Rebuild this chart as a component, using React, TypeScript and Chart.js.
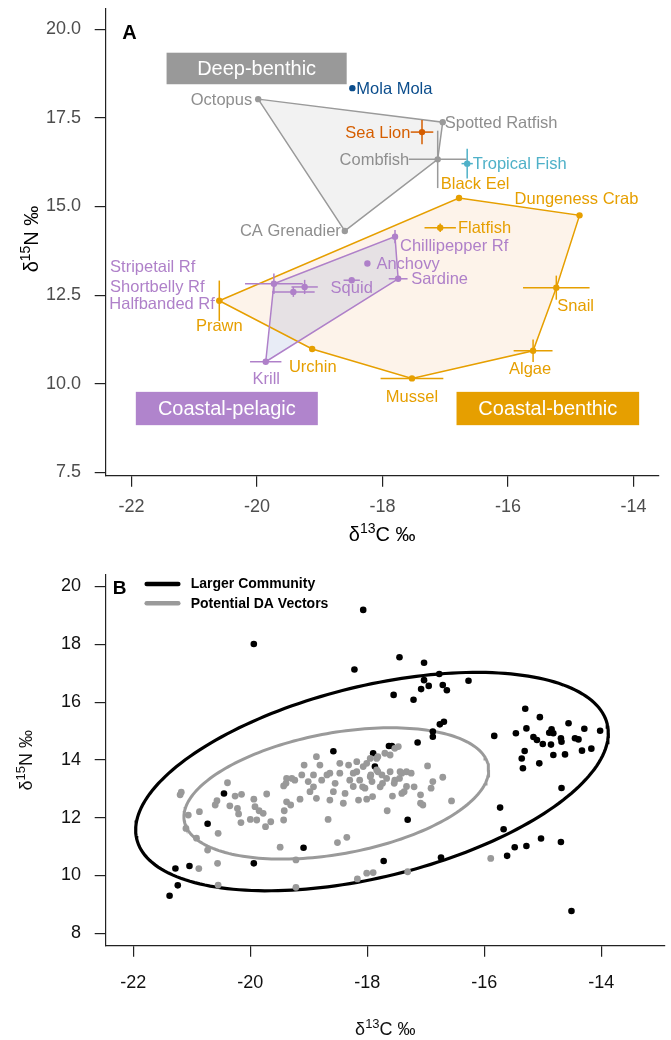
import React, { useEffect, useRef } from "react";
import { Chart, registerables } from "chart.js";

Chart.register(...registerables);

const FONT = "'Liberation Sans', Arial, Helvetica, sans-serif";

// ---------------- Panel A : species mean isotope values ----------------
const A_SPECIES = [
  "Octopus", "Mola Mola", "Spotted Ratfish", "Sea Lion", "Combfish", "Tropical Fish",
  "Black Eel", "Dungeness Crab", "Flatfish", "CA Grenadier", "Chillipepper Rf", "Anchovy",
  "Sardine", "Squid", "Stripetail Rf", "Shortbelly Rf", "Halfbanded Rf", "Prawn",
  "Snail", "Urchin", "Krill", "Algae", "Mussel",
];
const A_D13C = [-19.98, -18.48, -17.04, -17.37, -17.12, -16.65, -16.78, -14.86, -17.08, -18.6, -17.8, -18.24, -17.75, -18.49, -19.73, -19.24, -19.42, -20.6, -15.23, -19.12, -19.86, -15.6, -17.53];
const A_D15N = [18.03, 18.34, 17.38, 17.1, 16.33, 16.21, 15.24, 14.75, 14.4, 14.31, 14.15, 13.39, 12.96, 12.92, 12.82, 12.73, 12.59, 12.34, 12.71, 10.98, 10.62, 10.93, 10.15];
const A_SD13C = [0, 0, 0, 0.18, 0.46, 0.09, 0, 0, 0.25, 0, 0, 0, 0.15, 0.13, 0.46, 0.21, 0.34, 0.05, 0.53, 0, 0.25, 0.31, 0.5];
const A_SD15N = [0, 0, 0, 0.34, 0.81, 0.42, 0, 0, 0.12, 0, 0.19, 0, 0, 0, 0.29, 0.2, 0.14, 0.57, 0.34, 0, 0, 0.32, 0];
const A_GROUP = [
  "deep", "mola", "deep", "sealion", "deep", "tropical",
  "benthic", "benthic", "benthic", "deep", "pelagic", "pelagic",
  "pelagic", "pelagic", "pelagic", "pelagic", "pelagic", "benthic",
  "benthic", "benthic", "pelagic", "benthic", "benthic",
];
const HULL_DEEP = ["Octopus", "Spotted Ratfish", "Combfish", "CA Grenadier"];
const HULL_BENTHIC = ["Prawn", "Black Eel", "Dungeness Crab", "Snail", "Algae", "Mussel", "Urchin"];
const HULL_PELAGIC = ["Stripetail Rf", "Chillipepper Rf", "Sardine", "Krill"];
const A_X_TICKS = [-22, -20, -18, -16, -14];
const A_Y_TICKS = [7.5, 10, 12.5, 15, 17.5, 20];
const GROUP_NAMES = ["Deep-benthic", "Coastal-pelagic", "Coastal-benthic"];

// ---------------- Panel B : individual samples ----------------
const COMMUNITY_D13C = [-18.07, -19.94, -17.45, -18.22, -17.55, -18.58, -17.63, -17.58, -17.9, -17.87, -17.03, -16.77, -17.03, -16.95, -17.08, -16.71, -16.64, -16.27, -17.21, -16.69, -16.76, -16.88, -16.88, -17.14, -15.83, -15.3, -15.05, -14.56, -14.29, -14.02, -15.46, -15.28, -14.85, -14.89, -14.82, -15.16, -15.1, -15.0, -14.86, -14.69, -14.68, -14.45, -14.39, -14.17, -14.33, -14.62, -14.82, -15.31, -15.36, -15.06, -15.34, -14.68, -15.73, -15.67, -15.03, -14.69, -15.28, -15.48, -15.61, -14.51, -17.31, -16.74, -17.72, -20.45, -20.73, -19.09, -19.94, -21.28, -21.04, -21.24, -21.38];
const COMMUNITY_D15N = [19.19, 18.01, 17.55, 17.13, 16.25, 14.3, 14.48, 14.48, 14.23, 13.77, 17.36, 16.97, 16.76, 16.56, 16.45, 16.59, 16.41, 16.74, 16.08, 15.32, 15.23, 14.98, 14.8, 14.6, 14.83, 15.77, 15.48, 15.27, 15.08, 15.01, 14.92, 15.09, 15.06, 14.94, 14.92, 14.79, 14.69, 14.55, 14.53, 14.75, 14.63, 14.75, 14.71, 14.39, 14.32, 14.19, 14.17, 14.31, 14.05, 13.88, 13.71, 13.03, 12.35, 11.6, 11.28, 11.16, 11.02, 10.98, 10.68, 8.77, 11.93, 10.62, 10.5, 12.84, 11.79, 10.96, 10.42, 10.24, 10.33, 9.66, 9.3];
const VECTOR_D13C = [-21.18, -21.2, -21.06, -21.1, -20.87, -20.92, -20.73, -20.88, -20.56, -20.55, -20.55, -20.57, -20.6, -20.39, -20.35, -20.26, -20.15, -20.22, -20.2, -20.16, -20.0, -19.94, -19.89, -19.92, -19.85, -19.78, -19.72, -19.74, -19.65, -19.49, -19.43, -19.42, -19.38, -19.31, -19.43, -19.39, -19.29, -19.24, -19.15, -19.22, -19.22, -19.12, -19.08, -19.01, -18.98, -18.92, -18.87, -18.81, -18.78, -18.67, -18.69, -18.64, -18.58, -18.55, -18.51, -18.47, -18.41, -18.38, -18.35, -18.32, -18.3, -18.24, -18.18, -18.15, -18.13, -18.07, -18.04, -18.01, -17.95, -17.92, -17.84, -17.78, -17.75, -17.67, -17.66, -17.57, -17.53, -17.44, -17.41, -17.33, -18.01, -17.9, -18.17, -18.87, -18.47, -18.18, -18.01, -17.95, -17.84, -17.7, -17.61, -17.53, -17.47, -18.92, -18.64, -18.24, -17.61, -17.41, -17.33, -19.38, -17.94, -17.82, -17.74, -17.54, -17.45, -17.25, -17.2, -17.37, -17.09, -17.09, -17.05, -16.97, -16.91, -16.88, -16.71, -16.56, -17.91, -18.08, -15.89, -17.31, -17.82];
const VECTOR_D15N = [12.88, 12.79, 12.09, 11.63, 12.21, 11.29, 10.88, 10.24, 10.42, 11.46, 9.67, 12.59, 12.44, 13.21, 12.41, 12.75, 12.81, 12.32, 12.13, 11.83, 11.94, 12.64, 11.92, 12.38, 12.24, 12.15, 12.82, 11.69, 11.86, 10.98, 11.92, 12.24, 12.55, 12.44, 13.1, 13.19, 13.36, 13.3, 12.64, 10.54, 9.59, 13.48, 13.82, 13.25, 12.9, 13.07, 12.67, 13.82, 13.3, 11.94, 13.48, 12.61, 12.9, 13.19, 11.14, 13.54, 12.5, 12.84, 11.32, 13.82, 13.3, 13.08, 13.59, 12.61, 13.3, 13.77, 13.02, 12.64, 13.42, 13.25, 13.65, 13.07, 13.48, 13.36, 12.24, 12.75, 13.3, 13.59, 12.84, 13.08, 10.08, 10.1, 9.88, 14.11, 13.88, 13.94, 13.88, 14.05, 14.05, 14.23, 14.17, 14.4, 14.46, 13.48, 13.54, 13.54, 13.59, 13.54, 13.59, 13.36, 13.48, 13.59, 13.19, 13.19, 13.36, 13.54, 13.07, 12.9, 12.79, 12.5, 12.44, 13.79, 13.02, 13.25, 13.4, 12.58, 12.73, 13.07, 10.59, 10.13, 14.11];
// standard ellipses: centre [d13C, d15N] and spread [sxx, sxy, syy]
const ELLIPSE_COMMUNITY_CENTER = [-17.92, 13.25];
const ELLIPSE_COMMUNITY_SPREAD = [16.32, 6.765, 14.28];
const ELLIPSE_VECTOR_CENTER = [-18.53, 12.84];
const ELLIPSE_VECTOR_SPREAD = [6.786, 2.11, 5.161];
const B_X_TICKS = [-22, -20, -18, -16, -14];
const B_Y_TICKS = [8, 10, 12, 14, 16, 18, 20];
const B_LEGEND = ["Larger Community", "Potential DA Vectors"];

// ---------------- styles / layout ----------------
const GREY = "#9a9a9a";
const ORANGE = "#E69F00";
const PURPLE = "#AF80C9";
const COLORS: Record<string, string> = {
  deep: GREY, benthic: ORANGE, pelagic: PURPLE,
  mola: "#0B4D8C", sealion: "#D55E00", tropical: "#4FB1C8",
};
const LABEL_COLORS: Record<string, string> = { ...COLORS, deep: "#8e8e8e" };

const A_LABEL_LAYOUT: Record<string, [number, number, CanvasTextAlign]> = {
  "Octopus": [-6, 1, "right"],
  "Mola Mola": [4, 1, "left"],
  "Spotted Ratfish": [2, 1, "left"],
  "Sea Lion": [-11.6, 1, "right"],
  "Combfish": [-28.4, 1, "right"],
  "Tropical Fish": [5.6, 0.6, "left"],
  "Black Eel": [-18.3, -14, "left"],
  "Dungeness Crab": [-3, -16.4, "center"],
  "Flatfish": [17.7, 1, "left"],
  "CA Grenadier": [-4, 0.7, "right"],
  "Chillipepper Rf": [5, 10, "left"],
  "Anchovy": [9, 1, "left"],
  "Sardine": [13, 1, "left"],
  "Squid": [0, 8.6, "center"],
  "Stripetail Rf": [-163.8, -16.4, "left"],
  "Shortbelly Rf": [-194.6, 0.4, "left"],
  "Halfbanded Rf": [-184, 12.1, "left"],
  "Prawn": [0, 25.7, "center"],
  "Snail": [1, 18.4, "left"],
  "Urchin": [0.6, 18.4, "center"],
  "Krill": [0.5, 18, "center"],
  "Algae": [-3, 18.3, "center"],
  "Mussel": [0, 18.7, "center"],
};
// group boxes, corners in data units
const A_BOX_LAYOUT = [
  { color: "#999999", x0: -21.44, x1: -18.57, y0: 19.34, y1: 18.45 },
  { color: "#B084CC", x0: -21.93, x1: -19.03, y0: 9.77, y1: 8.83 },
  { color: "#E69F00", x0: -16.82, x1: -13.91, y0: 9.77, y1: 8.83 },
];

function idx(name: string) {
  return A_SPECIES.indexOf(name);
}

function hullPoints(names: string[]) {
  const pts = names.map((n) => ({ x: A_D13C[idx(n)], y: A_D15N[idx(n)] }));
  pts.push(pts[0]);
  return pts;
}

function ellipsePoints(center: number[], spread: number[]) {
  const [cx, cy] = center;
  const [sxx, sxy, syy] = spread;
  const sx = Math.sqrt(sxx);
  const l21 = sxy / sx;
  const l22 = Math.sqrt(syy - l21 * l21);
  const pts: { x: number; y: number }[] = [];
  const n = 200;
  for (let i = 0; i <= n; i++) {
    const t = (2 * Math.PI * i) / n;
    pts.push({ x: cx + sx * Math.cos(t), y: cy + l21 * Math.cos(t) + l22 * Math.sin(t) });
  }
  return pts;
}

function drawIso(ctx: CanvasRenderingContext2D, mass: string, el: string, x: number, y: number, rotate: boolean, size: number, color: string) {
  ctx.save();
  ctx.translate(x, y);
  if (rotate) ctx.rotate(-Math.PI / 2);
  const main = `${size}px ${FONT}`;
  const sup = `${Math.round(size * 0.72)}px ${FONT}`;
  ctx.font = main;
  const wD = ctx.measureText("δ").width;
  const wR = ctx.measureText(el + " ‰").width;
  ctx.font = sup;
  const wS = ctx.measureText(mass).width;
  let cx = -(wD + wS + wR) / 2;
  ctx.textAlign = "left";
  ctx.textBaseline = "alphabetic";
  ctx.fillStyle = color;
  ctx.font = main;
  ctx.fillText("δ", cx, 0);
  cx += wD;
  ctx.font = sup;
  ctx.fillText(mass, cx, -size * 0.4);
  cx += wS;
  ctx.font = main;
  ctx.fillText(el + " ‰", cx, 0);
  ctx.restore();
}

function axis(min: number, max: number, ticks: number[], fmt: (v: number) => string, isX: boolean, size: number, pad: number, labelColor: string) {
  return {
    type: "linear" as const,
    min,
    max,
    afterBuildTicks: (s: any) => {
      s.ticks = ticks.map((v) => ({ value: v }));
    },
    afterFit: (s: any) => {
      if (isX) {
        s.height = size;
        s.paddingLeft = 0;
        s.paddingRight = 0;
      } else {
        s.width = size;
        s.paddingTop = 0;
        s.paddingBottom = 0;
      }
    },
    grid: { drawOnChartArea: false, drawTicks: true, tickLength: 11, color: "#222", lineWidth: 1.2 },
    border: { display: true, color: "#222", width: 1.2 },
    ticks: {
      font: { size: 18, family: FONT },
      color: labelColor,
      padding: pad,
      callback: (v: any) => fmt(Number(v)),
    },
  };
}

function buildA(canvas: HTMLCanvasElement) {
  const plugin = {
    id: "panelA",
    beforeDatasetsDraw(chart: any) {
      const { ctx, scales } = chart;
      const x = scales.x;
      const y = scales.y;
      const fillHull = (names: string[], color: string) => {
        ctx.beginPath();
        names.forEach((n, i) => {
          const px = x.getPixelForValue(A_D13C[idx(n)]);
          const py = y.getPixelForValue(A_D15N[idx(n)]);
          if (i === 0) ctx.moveTo(px, py);
          else ctx.lineTo(px, py);
        });
        ctx.closePath();
        ctx.fillStyle = color;
        ctx.fill();
      };
      ctx.save();
      fillHull(HULL_BENTHIC, "rgba(235,140,50,0.1)");
      fillHull(HULL_PELAGIC, "rgba(100,128,195,0.15)");
      fillHull(HULL_DEEP, "rgba(0,0,0,0.05)");
      ctx.restore();
    },
    afterDatasetsDraw(chart: any) {
      const { ctx, scales, chartArea } = chart;
      const x = scales.x;
      const y = scales.y;
      ctx.save();
      // error bars
      ctx.lineWidth = 1.5;
      A_SPECIES.forEach((n, i) => {
        ctx.strokeStyle = COLORS[A_GROUP[i]];
        const px = x.getPixelForValue(A_D13C[i]);
        const py = y.getPixelForValue(A_D15N[i]);
        if (A_SD13C[i] > 0) {
          ctx.beginPath();
          ctx.moveTo(x.getPixelForValue(A_D13C[i] - A_SD13C[i]), py);
          ctx.lineTo(x.getPixelForValue(A_D13C[i] + A_SD13C[i]), py);
          ctx.stroke();
        }
        if (A_SD15N[i] > 0) {
          ctx.beginPath();
          ctx.moveTo(px, y.getPixelForValue(A_D15N[i] - A_SD15N[i]));
          ctx.lineTo(px, y.getPixelForValue(A_D15N[i] + A_SD15N[i]));
          ctx.stroke();
        }
      });
      // species labels
      ctx.font = `16.5px ${FONT}`;
      ctx.textBaseline = "middle";
      A_SPECIES.forEach((n, i) => {
        const lay = A_LABEL_LAYOUT[n];
        const px = x.getPixelForValue(A_D13C[i]);
        const py = y.getPixelForValue(A_D15N[i]);
        ctx.fillStyle = LABEL_COLORS[A_GROUP[i]];
        ctx.textAlign = lay[2];
        ctx.fillText(n, px + lay[0], py + lay[1]);
      });
      // group boxes
      A_BOX_LAYOUT.forEach((b, i) => {
        const x0 = x.getPixelForValue(b.x0);
        const x1 = x.getPixelForValue(b.x1);
        const y0 = y.getPixelForValue(b.y0);
        const y1 = y.getPixelForValue(b.y1);
        ctx.fillStyle = b.color;
        ctx.fillRect(x0, y0, x1 - x0, y1 - y0);
        ctx.fillStyle = "#ffffff";
        ctx.font = `20px ${FONT}`;
        ctx.textAlign = "center";
        ctx.textBaseline = "middle";
        ctx.fillText(GROUP_NAMES[i], (x0 + x1) / 2, (y0 + y1) / 2 + 1);
      });
      // panel letter
      ctx.fillStyle = "#000";
      ctx.font = `bold 20px ${FONT}`;
      ctx.textAlign = "left";
      ctx.textBaseline = "alphabetic";
      ctx.fillText("A", chartArea.left + 16.5, chartArea.top + 31);
      ctx.restore();
      drawIso(ctx, "13", "C", (chartArea.left + chartArea.right) / 2, 541, false, 20, "#000");
      drawIso(ctx, "15", "N", 38, (chartArea.top + chartArea.bottom) / 2 - 3, true, 20, "#000");
    },
  };

  return new Chart(canvas, {
    type: "scatter",
    data: {
      datasets: [
        { type: "line", data: hullPoints(HULL_BENTHIC), borderColor: ORANGE, borderWidth: 1.5, pointRadius: 0, fill: false, tension: 0, order: 4 },
        { type: "line", data: hullPoints(HULL_PELAGIC), borderColor: PURPLE, borderWidth: 1.5, pointRadius: 0, fill: false, tension: 0, order: 3 },
        { type: "line", data: hullPoints(HULL_DEEP), borderColor: GREY, borderWidth: 1.5, pointRadius: 0, fill: false, tension: 0, order: 2 },
        {
          type: "scatter",
          data: A_SPECIES.map((_, i) => ({ x: A_D13C[i], y: A_D15N[i] })),
          pointRadius: 3.2,
          pointBorderWidth: 0,
          pointBackgroundColor: A_GROUP.map((g) => COLORS[g]),
          order: 1,
        },
      ] as any,
    },
    options: {
      animation: false,
      responsive: false,
      maintainAspectRatio: false,
      layout: { autoPadding: false, padding: { left: 0, top: 8.3, right: 12.4, bottom: 0 } },
      plugins: { legend: { display: false }, tooltip: { enabled: false } },
      scales: {
        x: axis(-22.41, -13.6, A_X_TICKS, (v) => String(v), true, 69.3, 9.2, "#4d4d4d"),
        y: axis(7.404, 20.593, A_Y_TICKS, (v) => v.toFixed(1), false, 105.7, 13.7, "#4d4d4d"),
      } as any,
    },
    plugins: [plugin],
  });
}

function buildB(canvas: HTMLCanvasElement) {
  const plugin = {
    id: "panelB",
    afterDatasetsDraw(chart: any) {
      const { ctx, chartArea } = chart;
      ctx.save();
      ctx.fillStyle = "#000";
      ctx.font = `bold 19px ${FONT}`;
      ctx.textAlign = "left";
      ctx.textBaseline = "alphabetic";
      ctx.fillText("B", chartArea.left + 7, chartArea.top + 19);
      const cols = ["#000000", "#9a9a9a"];
      const ys = [chartArea.top + 9, chartArea.top + 28.3];
      B_LEGEND.forEach((t, i) => {
        ctx.strokeStyle = cols[i];
        ctx.lineWidth = 4.5;
        ctx.lineCap = "round";
        ctx.beginPath();
        ctx.moveTo(chartArea.left + 41, ys[i]);
        ctx.lineTo(chartArea.left + 72.6, ys[i]);
        ctx.stroke();
        ctx.fillStyle = "#000";
        ctx.font = `bold 14px ${FONT}`;
        ctx.textBaseline = "middle";
        ctx.fillText(t, chartArea.left + 85, ys[i] + 0.5);
      });
      ctx.restore();
      drawIso(ctx, "13", "C", (chartArea.left + chartArea.right) / 2, 1035 - 545, false, 18, "#111");
      drawIso(ctx, "15", "N", 32, (chartArea.top + chartArea.bottom) / 2, true, 18, "#111");
    },
  };

  return new Chart(canvas, {
    type: "scatter",
    data: {
      datasets: [
        { type: "line", data: ellipsePoints(ELLIPSE_COMMUNITY_CENTER, ELLIPSE_COMMUNITY_SPREAD), borderColor: "#000", borderWidth: 3.2, pointRadius: 0, fill: false, tension: 0, order: 5 },
        { type: "line", data: ellipsePoints(ELLIPSE_VECTOR_CENTER, ELLIPSE_VECTOR_SPREAD), borderColor: "#9a9a9a", borderWidth: 3, pointRadius: 0, fill: false, tension: 0, order: 4 },
        {
          type: "scatter",
          data: COMMUNITY_D13C.map((v, i) => ({ x: v, y: COMMUNITY_D15N[i] })),
          pointRadius: 3.3,
          pointBorderWidth: 0,
          pointBackgroundColor: "#000",
          order: 2,
        },
        {
          type: "scatter",
          data: VECTOR_D13C.map((v, i) => ({ x: v, y: VECTOR_D15N[i] })),
          pointRadius: 3.4,
          pointBorderWidth: 0,
          pointBackgroundColor: "#999999",
          order: 1,
        },
      ] as any,
    },
    options: {
      animation: false,
      responsive: false,
      maintainAspectRatio: false,
      layout: { autoPadding: false, padding: { left: 0, top: 30, right: 6, bottom: 0 } },
      plugins: { legend: { display: false }, tooltip: { enabled: false } },
      scales: {
        x: axis(-22.472, -12.911, B_X_TICKS, (v) => String(v), true, 94.3, 15.8, "#111"),
        y: axis(7.571, 20.398, B_Y_TICKS, (v) => String(v), false, 105.7, 13.7, "#111"),
      } as any,
    },
    plugins: [plugin],
  });
}

export default function App() {
  const refA = useRef<HTMLCanvasElement>(null);
  const refB = useRef<HTMLCanvasElement>(null);
  useEffect(() => {
    const a = buildA(refA.current as HTMLCanvasElement);
    const b = buildB(refB.current as HTMLCanvasElement);
    return () => {
      a.destroy();
      b.destroy();
    };
  }, []);
  return (
    <div style={{ position: "absolute", left: 0, top: 0, width: 671, height: 1040, background: "#fff" }}>
      <canvas ref={refA} width={671} height={545} style={{ position: "absolute", left: 0, top: 0, width: 671, height: 545 }} />
      <canvas ref={refB} width={671} height={495} style={{ position: "absolute", left: 0, top: 545, width: 671, height: 495 }} />
    </div>
  );
}
